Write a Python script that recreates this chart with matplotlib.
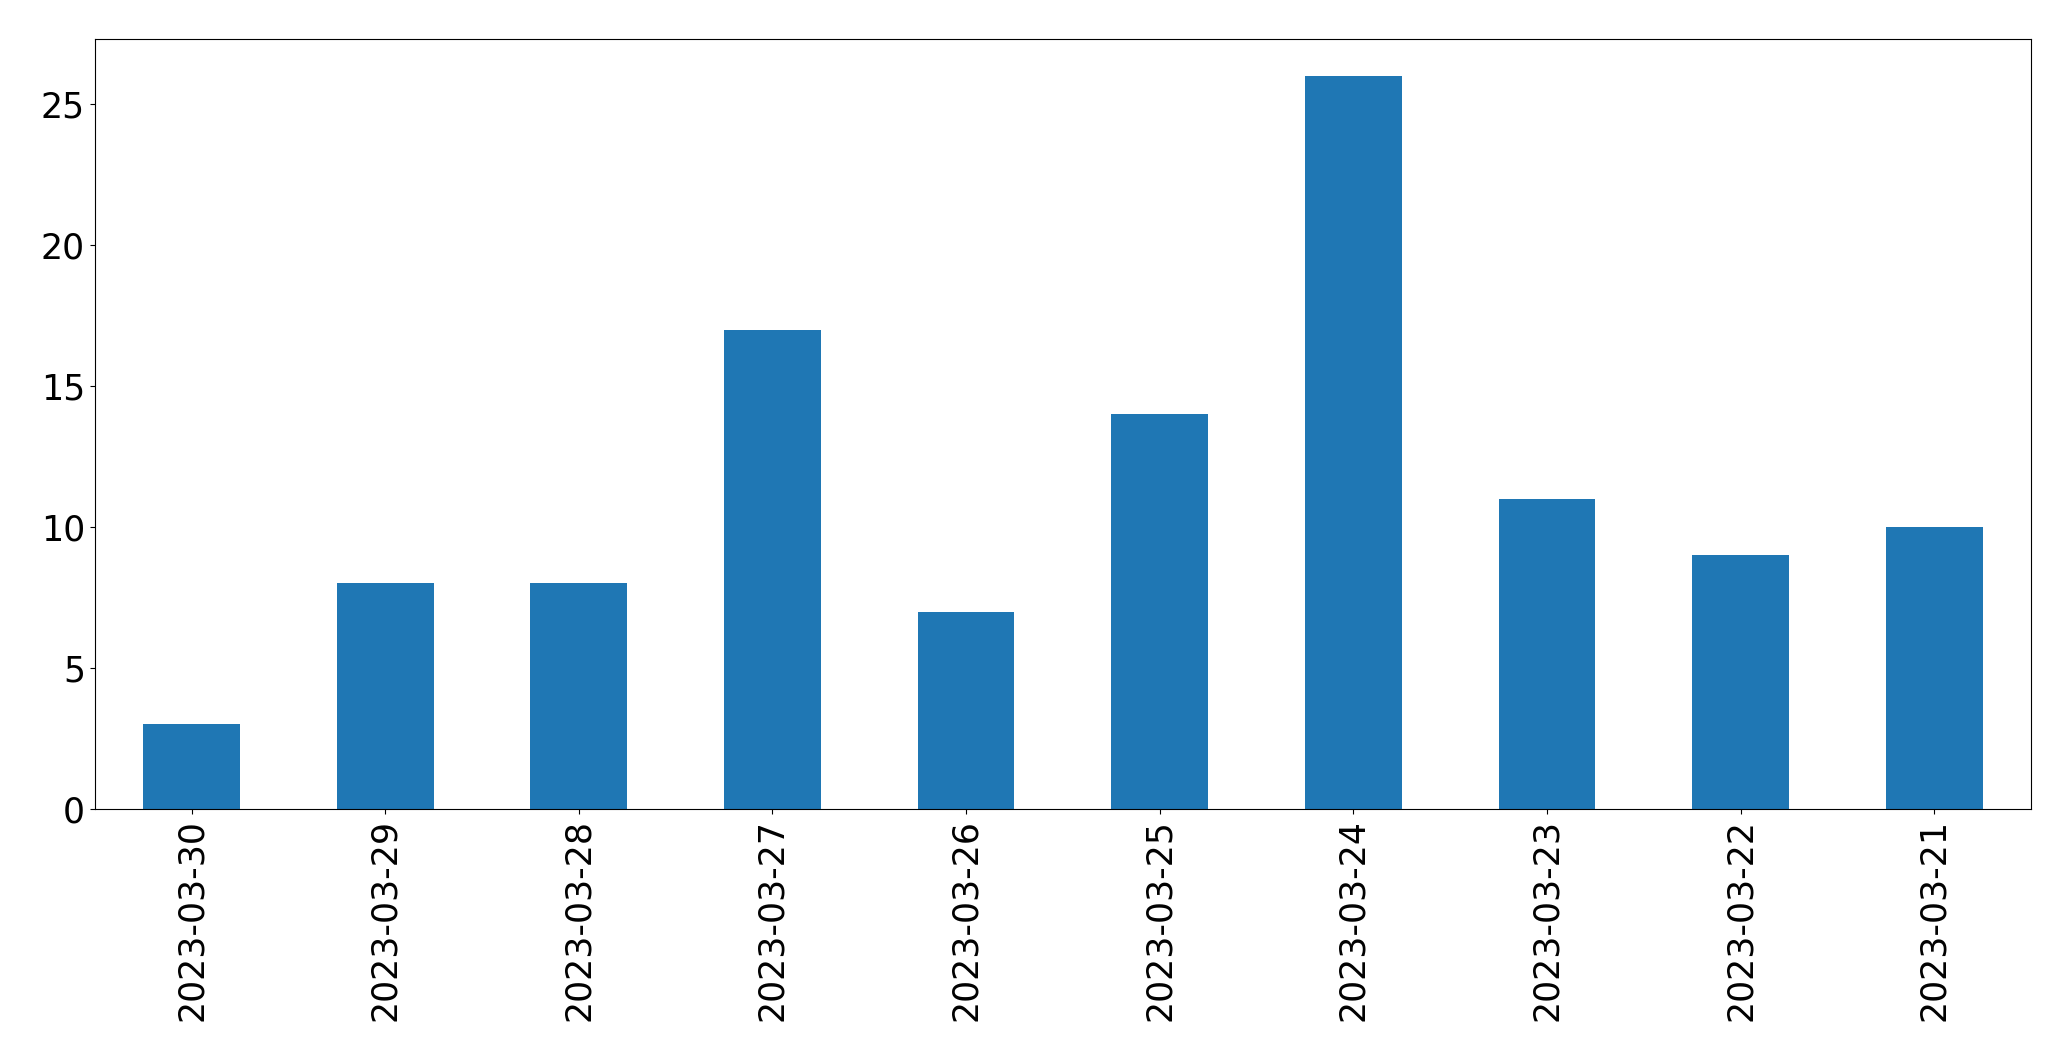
import matplotlib
matplotlib.use("Agg")
import matplotlib.pyplot as plt
import numpy as np

dates = ['2023-03-30', '2023-03-29', '2023-03-28', '2023-03-27', '2023-03-26',
         '2023-03-25', '2023-03-24', '2023-03-23', '2023-03-22', '2023-03-21']
counts = [3, 8, 8, 17, 7, 14, 26, 11, 9, 10]

fig = plt.figure(figsize=(20.71, 10.61), dpi=100)
ax = fig.add_axes([94.7/2071, 1 - 809/1061, (2031-94.7)/2071, (809-39.3)/1061])

x = np.arange(len(dates))
ax.bar(x, counts, width=0.5, color='#1f77b4')
ax.set_xlim(-0.5, len(dates) - 0.5)
ax.set_ylim(0, max(counts) * 1.05)
ax.set_xticks(x)
ax.set_xticklabels(dates, rotation=90)
ax.tick_params(labelsize=25)

fig.savefig('out.png', dpi=100)
